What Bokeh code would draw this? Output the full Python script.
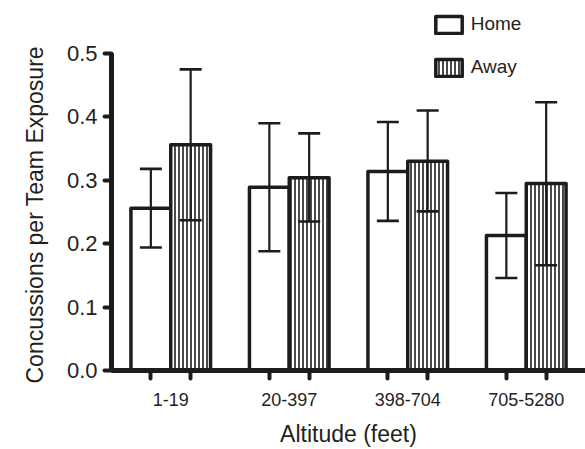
import numpy as np
from bokeh.plotting import figure
from bokeh.models import (ColumnDataSource, Range1d, FixedTicker, PrintfTickFormatter,
                          Whisker, TeeHead, Legend, LegendItem, Title)
from bokeh.embed import file_html
from bokeh.resources import INLINE

# ---- data ----
categories = ["1-19", "20-397", "398-704", "705-5280"]
home_mean = [0.256, 0.289, 0.314, 0.213]
home_lower = [0.194, 0.188, 0.236, 0.146]
home_upper = [0.318, 0.390, 0.392, 0.280]
away_mean = [0.356, 0.304, 0.330, 0.295]
away_lower = [0.237, 0.235, 0.251, 0.166]
away_upper = [0.475, 0.374, 0.410, 0.423]
y_ticks = [0.0, 0.1, 0.2, 0.3, 0.4, 0.5]
series_names = ["Home", "Away"]
x_title = "Altitude (feet)"
y_title = "Concussions per Team Exposure"

FONT = "Liberation Sans"
TXT = "#231f20"
LINE = "#1c1c1c"

idx = np.arange(len(categories), dtype=float)
offset = 0.168
bw = 0.336

p = figure(width=585, height=449, output_backend="svg", toolbar_location=None,
           x_range=Range1d(-0.5, 3.5), y_range=Range1d(0, 0.5836),
           min_border_left=111, min_border_right=0, min_border_top=0,
           min_border_bottom=79)
p.outline_line_color = None
p.xgrid.grid_line_color = None
p.ygrid.grid_line_color = None
p.background_fill_color = "white"

home_src = ColumnDataSource(dict(x=idx - offset, top=home_mean,
                                 lower=home_lower, upper=home_upper))
away_src = ColumnDataSource(dict(x=idx + offset, top=away_mean,
                                 lower=away_lower, upper=away_upper))

r_home = p.vbar(x="x", top="top", bottom=0, width=bw, source=home_src,
                fill_color="white", line_color=LINE, line_width=3.5,
                line_join="round")
r_away = p.vbar(x="x", top="top", bottom=0, width=bw, source=away_src,
                fill_color="white", line_color=LINE, line_width=3.5,
                line_join="round", hatch_pattern="vertical_line",
                hatch_scale=4, hatch_weight=1.6, hatch_color=LINE)

for src in (home_src, away_src):
    w = Whisker(source=src, base="x", lower="lower", upper="upper",
                dimension="height", line_color=LINE, line_width=2.2,
                upper_head=TeeHead(size=22, line_width=2.6, line_color=LINE),
                lower_head=TeeHead(size=22, line_width=2.6, line_color=LINE),
                level="overlay")
    p.add_layout(w)

# x axis
xa = p.xaxis[0]
xa.ticker = FixedTicker(ticks=list(idx),
                        minor_ticks=sorted(list(idx - offset) + list(idx + offset)))
xa.major_label_overrides = {float(i): c for i, c in zip(idx, categories)}
xa.major_tick_line_color = None
xa.major_tick_out = 8
xa.major_tick_in = 0
xa.minor_tick_line_color = LINE
xa.minor_tick_line_width = 4
xa.minor_tick_line_cap = "round"
xa.minor_tick_out = 8
xa.minor_tick_in = 0
xa.axis_line_width = 5
xa.axis_line_color = LINE
xa.major_label_text_font = FONT
xa.major_label_text_font_size = "18px"
xa.major_label_text_color = TXT
xa.major_label_standoff = 14
xa.axis_label = x_title
xa.axis_label_text_font = FONT
xa.axis_label_text_font_size = "23px"
xa.axis_label_text_font_style = "normal"
xa.axis_label_text_color = TXT
xa.axis_label_standoff = 12

# y axis
ya = p.yaxis[0]
ya.ticker = FixedTicker(ticks=y_ticks, minor_ticks=[])
ya.formatter = PrintfTickFormatter(format="%.1f")
ya.bounds = (0, 0.5)
ya.major_tick_out = 7
ya.major_tick_in = 0
ya.major_tick_line_width = 4
ya.major_tick_line_cap = "round"
ya.major_tick_line_color = LINE
ya.minor_tick_line_color = None
ya.axis_line_width = 5
ya.axis_line_color = LINE
ya.major_label_text_font = FONT
ya.major_label_text_font_size = "22px"
ya.major_label_text_color = TXT
ya.major_label_standoff = 7

p.add_layout(Title(text=y_title, align="left", offset=-13, standoff=32,
                   text_font=FONT, text_font_size="23px",
                   text_font_style="normal", text_color=TXT), "left")

legend = Legend(items=[LegendItem(label=series_names[0], renderers=[r_home]),
                       LegendItem(label=series_names[1], renderers=[r_away])],
                location=(320.75, 292), orientation="vertical",
                glyph_width=33, glyph_height=21, label_height=22,
                label_standoff=6, spacing=21, padding=0, margin=0,
                border_line_color=None, background_fill_alpha=0,
                label_text_font=FONT, label_text_font_size="19px",
                label_text_color=TXT)
p.add_layout(legend)

open("out.html", "w").write(file_html(p, INLINE))
